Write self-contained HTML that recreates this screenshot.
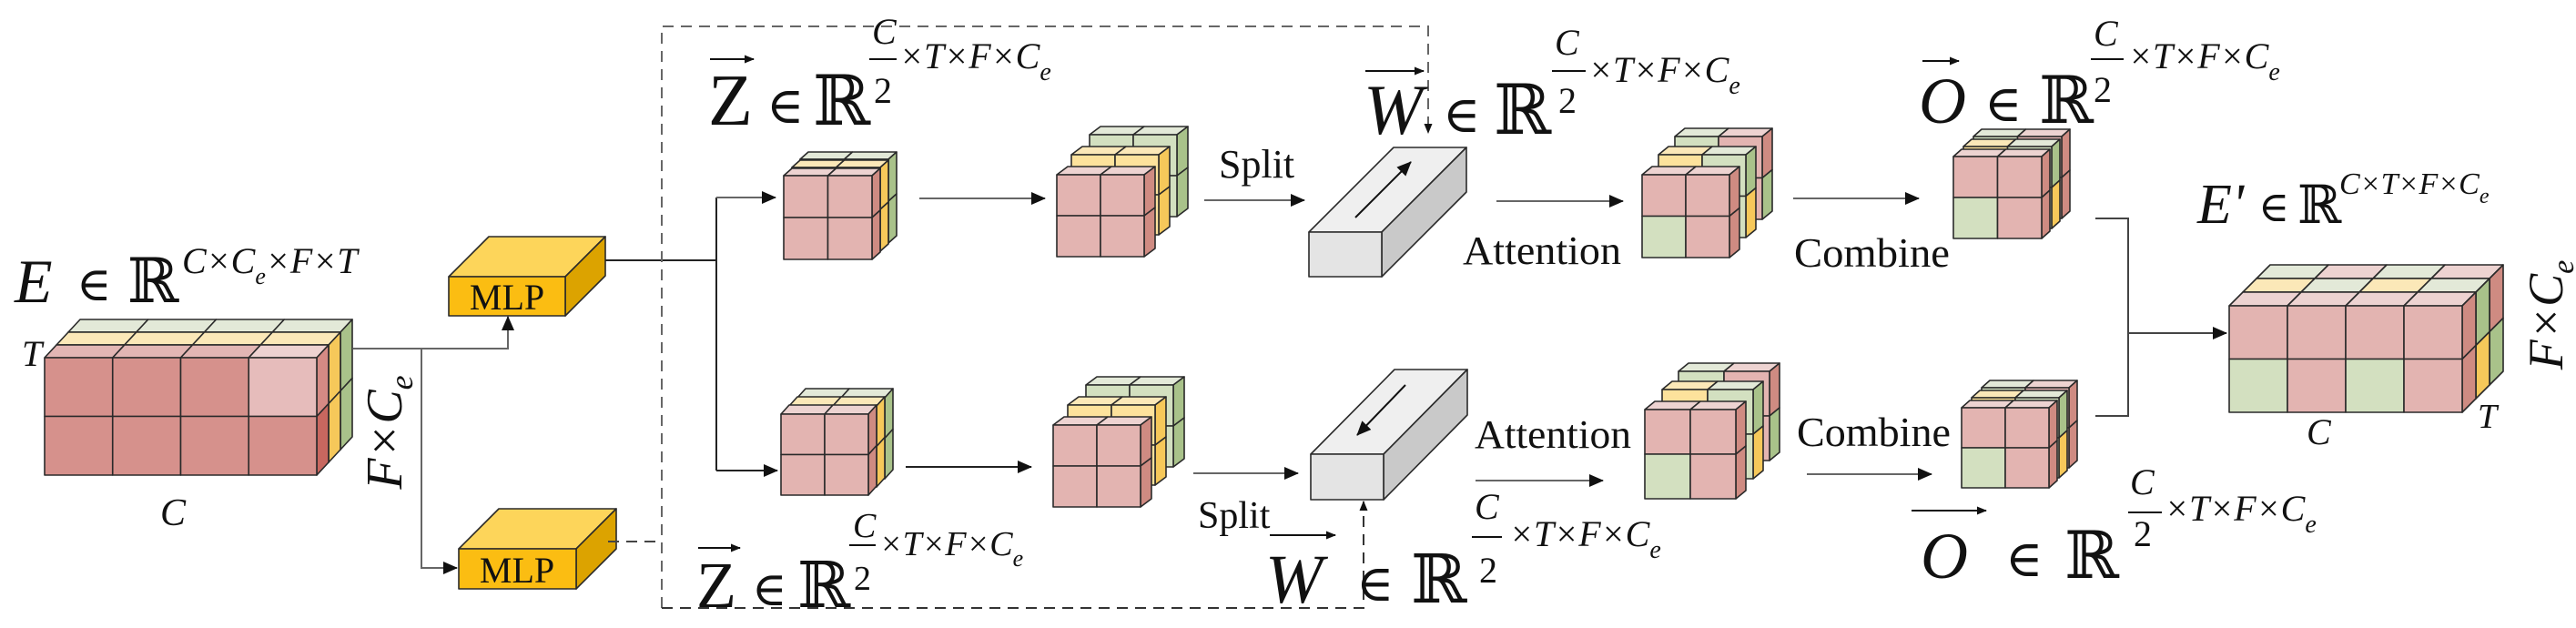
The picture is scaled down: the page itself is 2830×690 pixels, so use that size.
<!DOCTYPE html>
<html><head><meta charset="utf-8"><style>
html,body{margin:0;padding:0;background:#fff;}
svg{display:block;}
svg text, svg tspan{font-family:"Liberation Serif","DejaVu Serif",serif !important;fill:#111;}
.i{font-style:italic;}
</style></head><body>
<svg id="s" width="2830" height="690" viewBox="0 0 2830 690" xmlns="http://www.w3.org/2000/svg" font-family="Liberation Serif, serif">
<defs>
<marker id="ah" markerWidth="16" markerHeight="14" refX="15" refY="7" orient="auto" markerUnits="userSpaceOnUse"><path d="M0,0 L16,7 L0,14 z" fill="#111"/></marker>
<marker id="as" markerWidth="11" markerHeight="9" refX="10" refY="4.5" orient="auto" markerUnits="userSpaceOnUse"><path d="M0,0 L11,4.5 L0,9 z" fill="#111"/></marker>
</defs>
<g id="shapes"></g>
<g fill="none" stroke="#666" stroke-width="2">
<polyline points="388,383 558,383 558,348" marker-end="url(#ah)"/>
<polyline points="463,383 463,624 502,624" marker-end="url(#ah)"/>
<polyline points="665,286 787,286" stroke="#222"/>
<polyline points="787,217 787,517" stroke="#222"/>
<line x1="787" y1="217" x2="852" y2="217" marker-end="url(#ah)"/>
<line x1="787" y1="517" x2="854" y2="517" stroke="#222" marker-end="url(#ah)"/>
<polyline points="668,595 727,595" stroke-dasharray="12,8" stroke="#444"/>
<polyline points="727,668 727,29 1569,29 1569,146" stroke-dasharray="12,8" marker-end="url(#as)"/>
<polyline points="727,668 1498,668 1498,551" stroke-dasharray="12,8" stroke="#333" marker-end="url(#as)"/>
<line x1="1010" y1="218" x2="1148" y2="218" marker-end="url(#ah)"/>
<line x1="1323" y1="220" x2="1433" y2="220" marker-end="url(#ah)"/>
<line x1="1644" y1="221" x2="1783" y2="221" marker-end="url(#ah)"/>
<line x1="1970" y1="218" x2="2108" y2="218" marker-end="url(#ah)"/>
<line x1="995" y1="513" x2="1133" y2="513" stroke="#222" marker-end="url(#ah)"/>
<line x1="1311" y1="520" x2="1426" y2="520" marker-end="url(#ah)"/>
<line x1="1621" y1="528" x2="1761" y2="528" marker-end="url(#ah)"/>
<line x1="1985" y1="521" x2="2122" y2="521" marker-end="url(#ah)"/>
<polyline points="2302,240 2338,240 2338,457 2302,457" stroke="#444"/>
<line x1="2338" y1="366" x2="2446" y2="366" stroke="#444" marker-end="url(#ah)"/>
<line x1="1489" y1="239" x2="1550" y2="178" stroke="#111" marker-end="url(#ah)"/>
<line x1="1544" y1="423" x2="1491" y2="478" stroke="#111" marker-end="url(#ah)"/>
<line x1="780" y1="65" x2="828" y2="65" stroke="#111" marker-end="url(#as)"/>
<line x1="1500" y1="78" x2="1564" y2="78" stroke="#111" marker-end="url(#as)"/>
<line x1="2112" y1="67" x2="2152" y2="67" stroke="#111" marker-end="url(#as)"/>
<line x1="767" y1="602" x2="813" y2="602" stroke="#111" marker-end="url(#as)"/>
<line x1="1395" y1="588" x2="1467" y2="588" stroke="#111" marker-end="url(#as)"/>
<line x1="2100" y1="561" x2="2182" y2="561" stroke="#111" marker-end="url(#as)"/>
<line x1="955" y1="65" x2="985" y2="65" stroke="#111"/>
<line x1="1705" y1="78" x2="1742" y2="78" stroke="#111"/>
<line x1="2297" y1="65" x2="2333" y2="65" stroke="#111"/>
<line x1="933" y1="599" x2="962" y2="599" stroke="#111"/>
<line x1="1617" y1="590" x2="1650" y2="590" stroke="#111"/>
<line x1="2338" y1="563" x2="2375" y2="563" stroke="#111"/>
</g>

<text x="16" y="332" font-size="68" class="i">E</text>
<text x="84" y="330" font-size="52">∈</text>
<text x="140" y="332" font-size="68">ℝ</text>
<text x="200" y="300" font-size="40" class="i">C×C<tspan font-size="26" dy="12">e</tspan><tspan dy="-12">×F×T</tspan></text>
<text x="24" y="402" font-size="40" class="i">T</text>
<text x="176" y="577" font-size="42" class="i">C</text>
<text transform="translate(441,475) rotate(-90)" text-anchor="middle" font-size="56" class="i">F×C<tspan font-size="36" dy="12">e</tspan></text>

<text x="557" y="340" font-size="40" text-anchor="middle">MLP</text>
<text x="568" y="640" font-size="40" text-anchor="middle">MLP</text>

<text x="778" y="137" font-size="80">Z</text>
<text x="842" y="135" font-size="56">∈</text>
<text x="893" y="137" font-size="76">ℝ</text>
<text x="958" y="48" font-size="40" class="i">C</text>
<text x="960" y="113" font-size="40">2</text>
<text x="988" y="75" font-size="40" class="i">×T×F×C<tspan font-size="28" dy="13">e</tspan></text>

<text x="1339" y="195" font-size="44">Split</text>

<text x="1498" y="147" font-size="78" class="i">W</text>
<text x="1585" y="145" font-size="56">∈</text>
<text x="1641" y="147" font-size="76">ℝ</text>
<text x="1708" y="60" font-size="40" class="i">C</text>
<text x="1712" y="124" font-size="40">2</text>
<text x="1745" y="90" font-size="40" class="i">×T×F×C<tspan font-size="28" dy="13">e</tspan></text>

<text x="1607" y="290" font-size="44" textLength="174" lengthAdjust="spacingAndGlyphs">Attention</text>
<text x="1971" y="293" font-size="46" textLength="171" lengthAdjust="spacingAndGlyphs">Combine</text>

<text x="2108" y="135" font-size="72" class="i">O</text>
<text x="2180" y="133" font-size="56">∈</text>
<text x="2240" y="135" font-size="72">ℝ</text>
<text x="2300" y="50" font-size="40" class="i">C</text>
<text x="2300" y="112" font-size="40">2</text>
<text x="2338" y="75" font-size="40" class="i">×T×F×C<tspan font-size="28" dy="13">e</tspan></text>

<text x="2414" y="245" font-size="62" class="i">E'</text>
<text x="2481" y="243" font-size="46">∈</text>
<text x="2524" y="245" font-size="58">ℝ</text>
<text x="2570" y="213" font-size="34" class="i">C×T×F×C<tspan font-size="24" dy="10">e</tspan></text>
<text x="2534" y="488" font-size="40" class="i">C</text>
<text x="2722" y="470" font-size="38" class="i">T</text>
<text transform="translate(2815,346) rotate(-90)" text-anchor="middle" font-size="54" class="i">F×C<tspan font-size="34" dy="12">e</tspan></text>

<text x="765" y="667" font-size="72">Z</text>
<text x="826" y="665" font-size="52">∈</text>
<text x="876" y="667" font-size="70">ℝ</text>
<text x="937" y="590" font-size="38" class="i">C</text>
<text x="938" y="648" font-size="38">2</text>
<text x="966" y="610" font-size="38" class="i">×T×F×C<tspan font-size="26" dy="12">e</tspan></text>

<text x="1316" y="580" font-size="42">Split</text>

<text x="1390" y="662" font-size="76" class="i">W</text>
<text x="1490" y="660" font-size="56">∈</text>
<text x="1550" y="662" font-size="74">ℝ</text>
<text x="1620" y="570" font-size="40" class="i">C</text>
<text x="1625" y="640" font-size="40">2</text>
<text x="1658" y="600" font-size="40" class="i">×T×F×C<tspan font-size="28" dy="13">e</tspan></text>

<text x="1620" y="492" font-size="44" textLength="172" lengthAdjust="spacingAndGlyphs">Attention</text>
<text x="1974" y="490" font-size="46" textLength="169" lengthAdjust="spacingAndGlyphs">Combine</text>

<text x="2110" y="635" font-size="72" class="i">O</text>
<text x="2203" y="633" font-size="56">∈</text>
<text x="2268" y="635" font-size="72">ℝ</text>
<text x="2340" y="543" font-size="40" class="i">C</text>
<text x="2344" y="600" font-size="40">2</text>
<text x="2378" y="572" font-size="40" class="i">×T×F×C<tspan font-size="28" dy="13">e</tspan></text>
</svg>
<script>
(function(){
var NS="http://www.w3.org/2000/svg",g=document.getElementById("shapes");
function poly(pts,fill){var p=document.createElementNS(NS,"polygon");p.setAttribute("points",pts.map(function(a){return a[0]+","+a[1]}).join(" "));p.setAttribute("fill",fill);p.setAttribute("stroke","#2a2a2a");p.setAttribute("stroke-width","1.6");p.setAttribute("stroke-linejoin","round");g.appendChild(p);}
function box(x,y,w,h,dx,dy,front,top,side){
 var R=front.length,C=front[0].length,cw=w/C,rh=h/R,r,c;
 for(c=0;c<C;c++)poly([[x+c*cw,y],[x+(c+1)*cw,y],[x+(c+1)*cw+dx,y+dy],[x+c*cw+dx,y+dy]],top[c]);
 for(r=0;r<R;r++)poly([[x+w,y+r*rh],[x+w+dx,y+r*rh+dy],[x+w+dx,y+(r+1)*rh+dy],[x+w,y+(r+1)*rh]],side[r]);
 for(r=0;r<R;r++)for(c=0;c<C;c++)poly([[x+c*cw,y+r*rh],[x+(c+1)*cw,y+r*rh],[x+(c+1)*cw,y+(r+1)*rh],[x+c*cw,y+(r+1)*rh]],front[r][c]);
}
var P='#e3b4b1',PT='#edd3d1',PS='#cf8b82',Y='#fde29c',YT='#fbe8b8',YS='#f6c85a',G='#d3e0c0',GT='#e3e9d8',GS='#a9c28a';
function fill(c,R,C){var a=[];for(var r=0;r<R;r++){var b=[];for(var k=0;k<C;k++)b.push(c);a.push(b);}return a;}
function rep(c,n){var a=[];for(var i=0;i<n;i++)a.push(c);return a;}
box(75,365,299,129,13,-14,fill(G,2,4),rep(GT,4),rep(GS,2));
box(62,379,299,129,13,-14,fill(Y,2,4),rep(YT,4),rep(YS,2));
box(49,393,299,129,13,-14,[['#d6918c','#d6918c','#d6918c','#e6bcbb'],['#d6918c','#d6918c','#d6918c','#d6918c']],['#e3b6b4','#e3b6b4','#e3b6b4','#eed2d1'],['#d58a84','#c8675f']);
box(493,304,128,43,44,-44,[['#fbbd12']],['#fdd55a'],['#dca300']);
box(504,603,129,44,44,-44,[['#fbbd12']],['#fdd55a'],['#dca300']);
function zc(x,y,w,h,dx,dy){box(x+18,y-18,w,h,dx,dy,fill(G,2,2),rep(GT,2),rep(GS,2));box(x+9,y-9,w,h,dx,dy,fill(Y,2,2),rep(YT,2),rep(YS,2));box(x,y,w,h,dx,dy,fill(P,2,2),rep(PT,2),rep(PS,2));}
zc(861,193,97,92,9,-8); zc(858,455,96,89,9,-10);
function sc(x,y){box(x+36,y-44,96,90,12,-9,fill(G,2,2),rep(GT,2),rep(GS,2));box(x+16,y-22,96,88,12,-9,fill(Y,2,2),rep(YT,2),rep(YS,2));box(x,y,96,90,12,-9,fill(P,2,2),rep(PT,2),rep(PS,2));}
sc(1161,192); sc(1157,467);
box(1438,255,80,49,93,-93,[['#e4e4e4']],['#efefef'],['#c9c9c9']);
box(1440,499,80,50,92,-93,[['#e4e4e4']],['#efefef'],['#c9c9c9']);
function ac(x,y,w,h,o1,o2){box(x+o2[0],y+o2[1],w,h,11,-9,[[G,P],[G,P]],[GT,PT],[PS,GS]);box(x+o1[0],y+o1[1],w,h,11,-9,[[Y,G],[Y,G]],[YT,GT],[GS,YS]);box(x,y,w,h,11,-9,[[P,P],[G,P]],[PT,PT],[PS,PS]);}
ac(1804,192,96,91,[18,-22],[36,-42]); ac(1807,450,100,98,[19,-22],[37,-42]);
function oc(x,y,w,h){box(x+22,y-22,w,h,9,-8,[[G,P],[G,P]],[GT,PT],[PS,PS]);box(x+11,y-11,w,h,9,-8,[[Y,G],[Y,G]],[YT,GT],[GS,YS]);box(x,y,w,h,9,-8,[[P,P],[G,P]],[PT,PT],[PS,PS]);}
oc(2146,172,97,90); oc(2155,448,96,88);
box(2479,306,256,117,15,-15,[[G,P,G,P],[G,P,G,P]],[GT,PT,GT,PT],[PS,GS]);
box(2464,321,256,117,15,-15,[[Y,G,Y,G],[Y,G,Y,G]],[YT,GT,YT,GT],[GS,YS]);
box(2449,336,256,117,15,-15,[[P,P,P,P],[G,P,G,P]],[PT,PT,PT,PT],[PS,PS]);
})();
</script>
</body></html>
